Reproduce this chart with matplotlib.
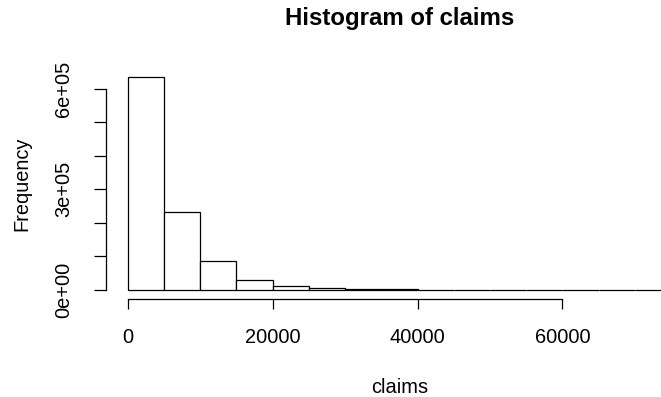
import numpy as np
import matplotlib
matplotlib.use("Agg")
import matplotlib.pyplot as plt

# Histogram of claim amounts, 5000-wide bins
bin_edges = [0, 5000, 10000, 15000, 20000, 25000, 30000, 35000, 40000,
             45000, 50000, 55000, 60000, 65000, 70000, 75000]
counts = [634000, 232000, 85500, 30700, 12000, 5000, 2500, 1500,
          800, 450, 250, 100, 40, 20, 10]

x_ticks = [0, 20000, 40000, 60000]
x_tick_labels = ["0", "20000", "40000", "60000"]
y_ticks = [0, 100000, 200000, 300000, 400000, 500000, 600000]
y_tick_labels = ["0e+00", "", "", "3e+05", "", "", "6e+05"]

title = "Histogram of claims"
x_label = "claims"
y_label = "Frequency"

plt.rcParams["font.family"] = ["Liberation Sans", "DejaVu Sans"]

W, H, DPI = 661, 397, 100
fig = plt.figure(figsize=(W / DPI, H / DPI), dpi=DPI)

# data ranges padded by 4% like base R graphics
xmin, xmax = bin_edges[0], bin_edges[-1]
xpad = 0.04 * (xmax - xmin)
ymax = max(counts)
ypad = 0.04 * ymax

# plot region in pixels (left / bottom edge), scale of 20000 units per 144.9 px
px_per_x = 144.9 / 20000
px_per_y = 33.55 / 100000
left_px = 127.7 - xpad * px_per_x
width_px = (xmax - xmin + 2 * xpad) * px_per_x
zero_y_px = 290.0
bottom_px = zero_y_px + ypad * px_per_y
height_px = (ymax + 2 * ypad) * px_per_y

ax = fig.add_axes([left_px / W, 1 - bottom_px / H, width_px / W, height_px / H])
ax.set_xlim(xmin - xpad, xmax + xpad)
ax.set_ylim(-ypad, ymax + ypad)

widths = np.diff(bin_edges)
ax.bar(bin_edges[:-1], counts, width=widths, align="edge",
       facecolor="white", edgecolor="black", linewidth=0.9)

for side in ["top", "right"]:
    ax.spines[side].set_visible(False)
for side in ["left", "bottom"]:
    ax.spines[side].set_linewidth(0.9)
ax.spines["bottom"].set_bounds(x_ticks[0], x_ticks[-1])
ax.spines["left"].set_bounds(y_ticks[0], y_ticks[-1])

ax.set_xticks(x_ticks)
ax.set_xticklabels(x_tick_labels, fontsize=14.4)
ax.set_yticks(y_ticks)
ax.set_yticklabels(y_tick_labels, fontsize=14.4, rotation=90, va="center")
ax.tick_params(axis="x", length=7.5, width=0.9, pad=14)
ax.tick_params(axis="y", length=8.5, width=0.9, pad=15)

cx = (left_px + width_px / 2) / W
cy = 1 - (bottom_px - height_px / 2) / H
fig.text(cx, 1 - 25 / H, title, ha="center", va="baseline",
         fontsize=17.3, fontweight="bold")
fig.text(cx, 1 - 393 / H, x_label, ha="center", va="baseline", fontsize=14.4)
fig.text(22 / W, cy, y_label, ha="center", va="center", rotation=90,
         fontsize=14.4)

fig.savefig("out.png", dpi=DPI)
